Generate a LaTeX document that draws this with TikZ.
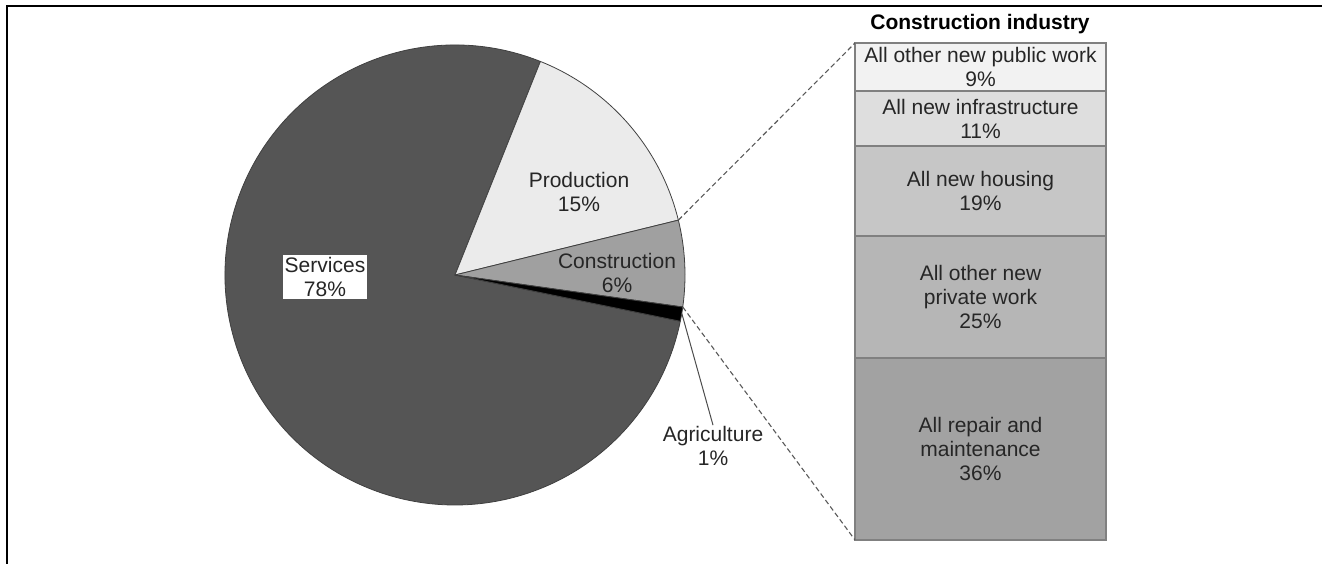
\documentclass[tikz,border=0pt]{standalone}
\usepackage{fontspec}
\setmainfont{Liberation Sans}
\usetikzlibrary{calc}
\definecolor{cServ}{HTML}{555555}
\definecolor{cProd}{HTML}{EBEBEB}
\definecolor{cCons}{HTML}{A0A0A0}
\definecolor{cAgri}{HTML}{000000}
\definecolor{cS1}{HTML}{F2F2F2}
\definecolor{cS2}{HTML}{DEDEDE}
\definecolor{cS3}{HTML}{C6C6C6}
\definecolor{cS4}{HTML}{B6B6B6}
\definecolor{cS5}{HTML}{A2A2A2}
\begin{document}
\begin{tikzpicture}[x=1pt,y=-1pt,
  every node/.style={font=\fontsize{21}{24}\selectfont, text=black!85},
  slice/.style={draw=black!75, line width=0.8pt, line join=round},
  lbl/.style={align=center, inner sep=1pt},
  seg/.style={draw=black!50, line width=1.2pt, anchor=north west, minimum width=251pt, inner sep=0pt, outer sep=0pt, align=center},
  zoomline/.style={draw=black!65, line width=1.1pt, dash pattern=on 5pt off 3pt},
  leader/.style={draw=black!70, line width=1pt}]
\useasboundingbox (0,0) rectangle (1322,564);
% frame
\draw[line width=2.2pt] (1322,6) -- (7,6) -- (7,564);
% pie
\coordinate (c) at (455,275);
\def\R{230pt}
\filldraw[slice, fill=cServ] (c) -- ($(c)+(68.2:\R)$) arc[start angle=68.2, end angle=348.4, radius=\R] -- cycle;
\filldraw[slice, fill=cProd] (c) -- ($(c)+(68.2:\R)$) arc[start angle=68.2, end angle=13.8, radius=\R] -- cycle;
\filldraw[slice, fill=cCons] (c) -- ($(c)+(13.8:\R)$) arc[start angle=13.8, end angle=-8.0, radius=\R] -- cycle;
\filldraw[slice, fill=cAgri] (c) -- ($(c)+(-8.0:\R)$) arc[start angle=-8.0, end angle=-11.6, radius=\R] -- cycle;
\coordinate (pTop) at ($(c)+(13.8:\R)$);
\coordinate (pBot) at ($(c)+(-8.0:\R)$);
\coordinate (pAgri) at ($(c)+(-9.6:\R)$);
% labels
\node[lbl, fill=white, inner sep=2pt] (serv) at (325,277) {Services\\78\%};
\node[lbl] (prod) at (579,192) {Production\\15\%};
\node[lbl] (cons) at (617,273) {Construction\\6\%};
\node[lbl] (agri) at (713,446) {Agriculture\\1\%};
\draw[leader] (pAgri) -- (agri.north);
% title
\node[font=\fontsize{21}{24}\selectfont\bfseries, text=black] (title) at (980,24) {Construction industry};
% stacked bar
\node[seg, fill=cS1, minimum height=48pt] (s1) at (855,43) {All other new public work\\9\%};
\node[seg, fill=cS2, minimum height=55pt] (s2) at (s1.south west) {All new infrastructure\\11\%};
\node[seg, fill=cS3, minimum height=90pt] (s3) at (s2.south west) {All new housing\\19\%};
\node[seg, fill=cS4, minimum height=122pt] (s4) at (s3.south west) {All other new\\private work\\25\%};
\node[seg, fill=cS5, minimum height=182pt] (s5) at (s4.south west) {All repair and\\maintenance\\36\%};
% zoom lines
\draw[zoomline] (pTop) -- (s1.north west);
\draw[zoomline] (pBot) -- (s5.south west);
\end{tikzpicture}
\end{document}
